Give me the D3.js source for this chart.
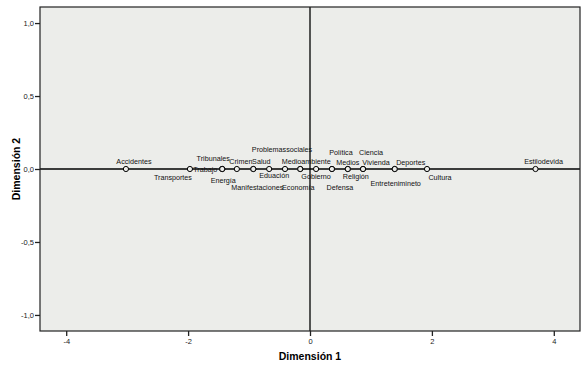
<!DOCTYPE html>
<html>
<head>
<meta charset="utf-8">
<script src="https://cdn.jsdelivr.net/npm/d3@7"></script>
<style>
  body { margin: 0; background: #fff; }
  svg text { font-family: "Liberation Sans", Arial, sans-serif; }
</style>
</head>
<body>
<svg id="chart"></svg>
<script>
let width = 588;
let height = 369;

// category points (object scores)
let categories = ["Accidentes", "Transportes", "Tribunales", "Trabajo", "Energía", "Crimen", "Salud",
    "Manifestaciones", "Eduación", "Problemassociales", "Medioambiente", "Economía", "Gobierno",
    "Política", "Defensa", "Medios", "Religión", "Ciencia", "Vivienda", "Entretenimineto",
    "Deportes", "Cultura", "Estilodevida"];
let dim1 = [-3.02, -1.97, -1.44, -1.44, -1.44, -1.20, -0.93,
    -0.93, -0.67, -0.41, -0.16, -0.16, 0.10,
    0.36, 0.36, 0.62, 0.62, 0.87, 0.87, 1.39,
    1.39, 1.92, 3.70];
let dim2 = [0, 0, 0, 0, 0, 0, 0,
    0, 0, 0, 0, 0, 0,
    0, 0, 0, 0, 0, 0, 0,
    0, 0, 0];

let xTicks = [-4, -2, 0, 2, 4];
let yTicks = [-1.0, -0.5, 0.0, 0.5, 1.0];

// where each label sits relative to its point (px), like the spss layout
let labelOffset = {
    "Accidentes": [8, -8], "Transportes": [-17, 8], "Tribunales": [-9, -11], "Trabajo": [-17, 0],
    "Energía": [1, 11], "Crimen": [4, -8], "Salud": [8, -8], "Manifestaciones": [4, 18],
    "Eduación": [5, 6], "Problemassociales": [-3, -20], "Medioambiente": [6, -8], "Economía": [-2, 18],
    "Gobierno": [0, 7], "Política": [9, -17], "Defensa": [8, 18], "Medios": [0, -7],
    "Religión": [8, 7], "Ciencia": [8, -17], "Vivienda": [13, -7], "Entretenimineto": [1, 14],
    "Deportes": [16, -7], "Cultura": [13, 8], "Estilodevida": [8, -8]
};

let plot = {left: 40, right: 580, top: 7, bottom: 331};

let svg = d3.select("#chart")
    .attr("width", width)
    .attr("height", height);

let x = d3.scaleLinear().domain([-4.43, 4.43]).range([plot.left, plot.right]);
let y = d3.scaleLinear().domain([-1.11, 1.11]).range([plot.bottom, plot.top]);

svg.append("rect")
    .attr("x", plot.left)
    .attr("y", plot.top)
    .attr("width", plot.right - plot.left)
    .attr("height", plot.bottom - plot.top)
    .attr("fill", "#ecedea");

// reference lines at 0
svg.append("line")
    .attr("x1", plot.left).attr("x2", plot.right)
    .attr("y1", y(0)).attr("y2", y(0))
    .attr("stroke", "black").attr("stroke-width", 1.3);
svg.append("line")
    .attr("x1", x(0)).attr("x2", x(0))
    .attr("y1", plot.top).attr("y2", plot.bottom)
    .attr("stroke", "black").attr("stroke-width", 1.3);

svg.append("rect")
    .attr("x", plot.left)
    .attr("y", plot.top)
    .attr("width", plot.right - plot.left)
    .attr("height", plot.bottom - plot.top)
    .attr("fill", "none")
    .attr("stroke", "#222")
    .attr("stroke-width", 1.2);

let fmt = d => d3.format(".1f")(d).replace(".", ",").replace("−", "-");

let xAxis = svg.append("g")
    .attr("transform", `translate(0,${plot.bottom})`)
    .call(d3.axisBottom(x).tickValues(xTicks).tickSize(5).tickFormat(d => String(d)));
let yAxis = svg.append("g")
    .attr("transform", `translate(${plot.left},0)`)
    .call(d3.axisLeft(y).tickValues(yTicks).tickSize(5).tickFormat(fmt));

[xAxis, yAxis].forEach(ax => {
    ax.select(".domain").remove();
    ax.selectAll(".tick line").attr("stroke", "#222").attr("stroke-width", 1.3);
    ax.selectAll(".tick text")
        .attr("fill", "#222")
        .style("font-size", "7.5px")
        .style("font-family", "'Liberation Sans', Arial, sans-serif");
});
xAxis.selectAll(".tick text").attr("y", 8);
yAxis.selectAll(".tick text").attr("x", -6);

svg.append("text")
    .attr("x", x(0))
    .attr("y", 360)
    .attr("text-anchor", "middle")
    .style("font-size", "10.5px")
    .style("font-weight", "bold")
    .text("Dimensión 1");

svg.append("text")
    .attr("transform", `translate(20,${y(0)}) rotate(-90)`)
    .attr("text-anchor", "middle")
    .style("font-size", "10.5px")
    .style("font-weight", "bold")
    .text("Dimensión 2");

let pts = categories.map((c, i) => ({name: c, d1: dim1[i], d2: dim2[i]}));

svg.append("g").selectAll("circle")
    .data(pts)
    .join("circle")
    .attr("cx", d => x(d.d1))
    .attr("cy", d => y(d.d2))
    .attr("r", 2.6)
    .attr("fill", "#ecedea")
    .attr("stroke", "black")
    .attr("stroke-width", 1);

svg.append("g").selectAll("text")
    .data(pts)
    .join("text")
    .attr("x", d => x(d.d1) + labelOffset[d.name][0])
    .attr("y", d => y(d.d2) + labelOffset[d.name][1])
    .attr("dy", "0.35em")
    .attr("text-anchor", "middle")
    .style("font-size", "7.2px")
    .attr("fill", "#111")
    .text(d => d.name);
</script>
</body>
</html>
